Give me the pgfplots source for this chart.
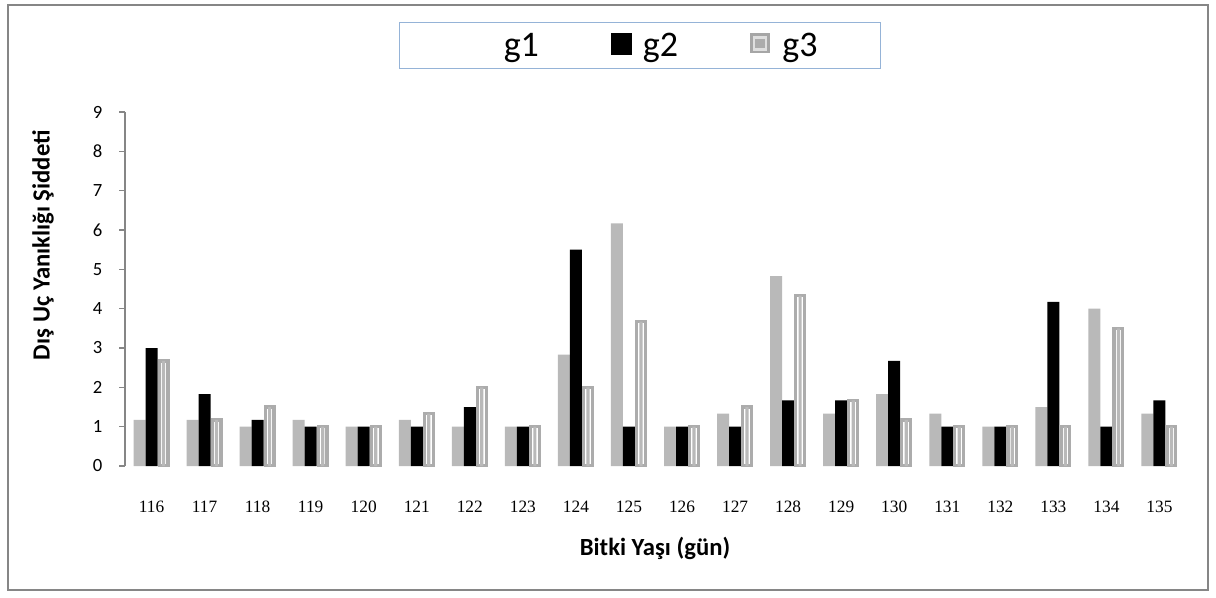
\documentclass[border=0pt]{standalone}
\usepackage{pgfplots}
\pgfplotsset{compat=1.18}
\usepackage{fontspec}
\setmainfont{Carlito}
\newfontfamily\timesfont{Liberation Serif}
\definecolor{framegray}{RGB}{134,134,134}
\definecolor{legblue}{RGB}{149,179,215}

\pgfplotstableread{
x g1 g2 g3
0 1.17 3.00 2.67
1 1.17 1.83 1.17
2 1.00 1.17 1.50
3 1.17 1.00 1.00
4 1.00 1.00 1.00
5 1.17 1.00 1.33
6 1.00 1.50 2.00
7 1.00 1.00 1.00
8 2.83 5.50 2.00
9 6.17 1.00 3.67
10 1.00 1.00 1.00
11 1.33 1.00 1.50
12 4.83 1.67 4.33
13 1.33 1.67 1.67
14 1.83 2.67 1.17
15 1.33 1.00 1.00
16 1.00 1.00 1.00
17 1.50 4.17 1.00
18 4.00 1.00 3.50
19 1.33 1.67 1.00
}\datatable

\begin{document}
\begin{tikzpicture}
\path[use as bounding box] (0,0) rectangle (912pt,447.75pt);
\draw[framegray, line width=0.9pt] (6pt,5.25pt) rectangle (906pt,444pt);
\begin{axis}[
  at={(93.75pt,98.25pt)}, anchor=south west,
  scale only axis, width=795.75pt, height=265.5pt,
  ybar=0pt, bar width=9pt,
  xmin=-0.5, xmax=19.5, ymin=0, ymax=9,
  xtick={0,...,19},
  xticklabels={116,117,118,119,120,121,122,123,124,125,126,127,128,129,130,131,132,133,134,135},
  ytick={0,...,9},
  axis lines=left,
  axis line style={-, framegray, line width=0.8pt},
  x axis line style={draw=none},
  xtick style={draw=none},
  ytick style={framegray, line width=0.8pt},
  tick align=outside,
  major tick length=4.5pt,
  /pgf/number format/assume math mode=true,
  xticklabel style={font=\timesfont\fontsize{13}{15}\selectfont, anchor=base, yshift=-30pt},
  yticklabel style={font=\fontsize{14}{16}\selectfont, anchor=center, xshift=-16pt},
  xlabel={Bitki Yaşı (gün)},
  ylabel={Dış Uç Yanıklığı Şiddeti},
  every axis x label/.style={at={(axis description cs:0.4995,-0.2316)}, anchor=center,
    font=\bfseries\fontsize{18.5}{22}\selectfont},
  every axis y label/.style={at={(axis description cs:-0.0773,0.624)}, anchor=center, rotate=90,
    font=\bfseries\fontsize{18.5}{22}\selectfont},
  legend columns=3,
  legend style={at={(axis description cs:0.4854,1.188)}, anchor=center,
    draw=legblue, line width=0.8pt, inner xsep=45.5pt, inner ysep=5.5pt,
    font=\fontsize{27}{30}\selectfont,
    /tikz/every even column/.append style={column sep=52pt}},
]
\addplot[draw=none, fill=gray!55, bar shift=-9pt, bar width=9pt,
  legend image code/.code={\fill[white] (0pt,-7pt) rectangle (16pt,9pt); \path (-9pt,0pt) (22pt,0pt);}]
  table[x=x, y=g1] {\datatable};
\addplot[draw=none, fill=black, bar shift=0pt, bar width=9pt,
  legend image code/.code={\fill[black] (0pt,-7pt) rectangle (16pt,9pt); \path (22pt,0pt);}]
  table[x=x, y=g2] {\datatable};
\addplot[draw=gray!65, line width=2.4pt, fill=white, bar shift=9pt, bar width=6.6pt,
  legend image code/.code={\draw[gray!70, line width=2pt, fill=gray!25] (1pt,-5pt) rectangle (14pt,8pt); \fill[gray!65] (5pt,-1pt) rectangle (10pt,4pt); \path (21pt,0pt);}]
  table[x=x, y=g3] {\datatable};
\addplot[draw=none, fill=gray!55, bar shift=9pt, bar width=2.4pt, forget plot]
  table[x=x, y=g3] {\datatable};
\legend{g1,g2,g3}
\end{axis}
\end{tikzpicture}
\end{document}
